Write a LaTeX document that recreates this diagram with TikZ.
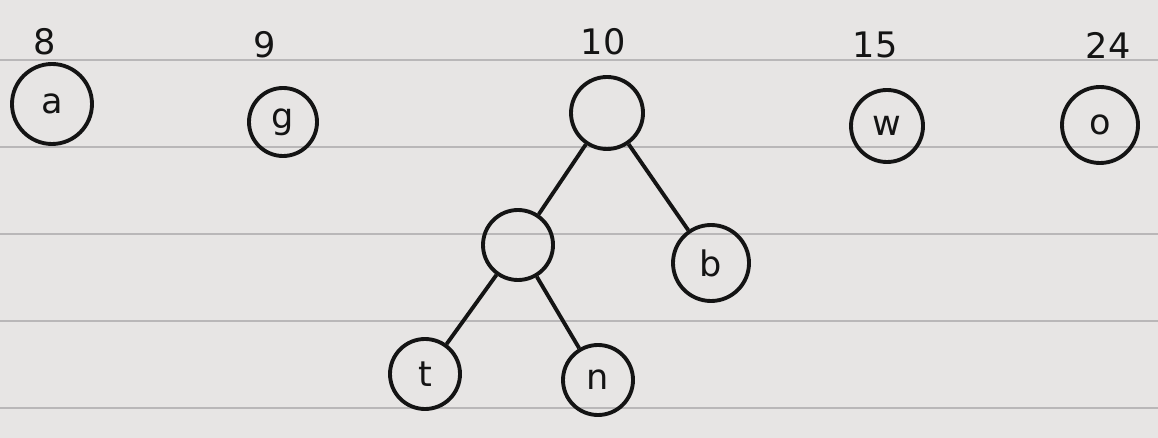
\documentclass[tikz,border=0pt]{standalone}
\usepackage{fontspec}
\setmainfont{DejaVu Sans}
\definecolor{paper}{HTML}{E7E5E4}
\definecolor{rule}{HTML}{B9B7B8}
\definecolor{ink}{HTML}{141414}
\begin{document}
\begin{tikzpicture}[x=0.02cm,y=-0.02cm,
  vert/.style={circle,draw=ink,line width=2.2pt,inner sep=0pt,text=ink,font=\fontsize{20}{24}\selectfont},
  wlabel/.style={text=ink,font=\fontsize{20}{24}\selectfont},
  edge/.style={draw=ink,line width=2.2pt}]
\fill[paper] (0,0) rectangle (1158,438);
\useasboundingbox (0,0) rectangle (1158,438);
\foreach \yy in {60,147,234,321,408}
  \draw[rule,line width=1.2pt] (0,\yy) -- (1158,\yy);
% leaves on top row
\node[vert,minimum size=80*0.02cm] (a) at (52,104) {a};
\node[wlabel] (la) at (45,42) {8};
\node[vert,minimum size=68*0.02cm] (g) at (283,122) {g};
\node[wlabel] (lg) at (265,45) {9};
\node[vert,minimum size=72*0.02cm] (w) at (887,126) {w};
\node[wlabel] (lw) at (875,45) {15};
\node[vert,minimum size=76*0.02cm] (o) at (1100,125) {o};
\node[wlabel] (lo) at (1108,45) {24};
% tree
\node[vert,minimum size=72*0.02cm] (r) at (607,113) {};
\node[wlabel] (lr) at (603,42) {10};
\node[vert,minimum size=70*0.02cm] (m) at (518,245) {};
\node[vert,minimum size=76*0.02cm] (b) at (711,263) {b};
\node[vert,minimum size=70*0.02cm] (t) at (425,374) {t};
\node[vert,minimum size=70*0.02cm] (n) at (598,380) {n};
\draw[edge] (r) -- (m);
\draw[edge] (r) -- (b);
\draw[edge] (m) -- (t);
\draw[edge] (m) -- (n);
\end{tikzpicture}
\end{document}
